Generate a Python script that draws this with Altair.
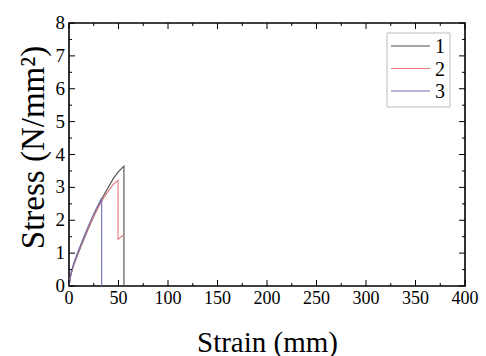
import altair as alt
import pandas as pd

# ---- data ----
strain1 = [0, 2, 5, 10, 15, 20, 25, 30, 35, 40, 45, 50, 55.5, 55.5]
stress1 = [0, 0.35, 0.65, 1.05, 1.42, 1.78, 2.12, 2.45, 2.75, 3.02, 3.28, 3.48, 3.65, 0]

strain2 = [0, 2, 5, 10, 15, 20, 25, 30, 35, 40, 45, 49.5, 49.5, 55]
stress2 = [0, 0.38, 0.68, 1.08, 1.45, 1.8, 2.12, 2.42, 2.68, 2.9, 3.1, 3.22, 1.42, 1.55]

strain3 = [0, 2, 5, 10, 15, 20, 25, 30, 33, 33]
stress3 = [0, 0.4, 0.72, 1.12, 1.5, 1.86, 2.2, 2.5, 2.68, 0]

series_names = ["1", "2", "3"]
series_colors = ["#4d4d4d", "#e07a7a", "#6b6fb0"]

x_major = [0, 50, 100, 150, 200, 250, 300, 350, 400]
x_minor = [25, 75, 125, 175, 225, 275, 325, 375]
y_major = [0, 1, 2, 3, 4, 5, 6, 7, 8]
y_minor = [0.5, 1.5, 2.5, 3.5, 4.5, 5.5, 6.5, 7.5]

W, H = 396, 263
FONT = "Liberation Serif"

rows = []
for name, xs, ys in zip(series_names, [strain1, strain2, strain3], [stress1, stress2, stress3]):
    for i, (a, b) in enumerate(zip(xs, ys)):
        rows.append({"series": name, "strain": a, "stress": b, "order": i})
df = pd.DataFrame(rows)

xscale = alt.Scale(domain=[0, 400], nice=False)
yscale = alt.Scale(domain=[0, 8], nice=False)
cscale = alt.Scale(domain=series_names, range=series_colors)

common = dict(labelFont=FONT, titleFont=FONT, labelColor="black", titleColor="black",
              titleFontWeight="normal", ticks=False, domain=False, grid=False,
              labels=False)

xaxis = alt.Axis(values=x_major, title="Strain (mm)",
                 titleFontSize=29, titleY=56, titleBaseline="middle", **common)
yaxis = alt.Axis(values=y_major, title="Stress (N/mm²)", titleFontSize=33,
                 titleX=-36, titleY=124, titleAngle=270,
                 titleAlign="center", titleBaseline="middle", **common)

lines = alt.Chart(df).mark_line(strokeWidth=1.1).encode(
    x=alt.X("strain:Q", scale=xscale, axis=xaxis),
    y=alt.Y("stress:Q", scale=yscale, axis=yaxis),
    color=alt.Color("series:N", scale=cscale, legend=None),
    order="order:Q",
)

xmaj = pd.DataFrame({"strain": x_major})
xmin = pd.DataFrame({"strain": x_minor})
ymaj = pd.DataFrame({"stress": y_major})
ymin = pd.DataFrame({"stress": y_minor})

def xticks(d, length):
    b = alt.Chart(d).mark_rule(color="black", strokeWidth=1).encode(
        x=alt.X("strain:Q", scale=xscale, axis=xaxis), y=alt.value(H), y2=alt.value(H - length))
    t = alt.Chart(d).mark_rule(color="black", strokeWidth=1).encode(
        x=alt.X("strain:Q", scale=xscale, axis=xaxis), y=alt.value(0), y2=alt.value(length))
    return b + t

def yticks(d, length):
    l = alt.Chart(d).mark_rule(color="black", strokeWidth=1).encode(
        y=alt.Y("stress:Q", scale=yscale, axis=yaxis), x=alt.value(0), x2=alt.value(length))
    r = alt.Chart(d).mark_rule(color="black", strokeWidth=1).encode(
        y=alt.Y("stress:Q", scale=yscale, axis=yaxis), x=alt.value(W), x2=alt.value(W - length))
    return l + r

# tick labels as serif text marks
xlabels = alt.Chart(xmaj).mark_text(font=FONT, fontSize=18, color="black",
                                    baseline="top", align="center").encode(
    x=alt.X("strain:Q", scale=xscale, axis=xaxis), y=alt.value(H + 4),
    text=alt.Text("strain:Q", format="d"))
ylabels = alt.Chart(ymaj).mark_text(font=FONT, fontSize=19, color="black",
                                    baseline="middle", align="right").encode(
    y=alt.Y("stress:Q", scale=yscale, axis=yaxis), x=alt.value(-4),
    text=alt.Text("stress:Q", format="d"))

# ---- manual legend (box, short lines, labels) ----
LX0, LY0, LX1, LY1 = 318, 10, 381, 84
legend_df = pd.DataFrame({"series": series_names})
legend_layers = [
    alt.Chart(legend_df.iloc[:1]).mark_rect(fill="white", stroke="#aaaaaa", strokeWidth=0.8).encode(
        x=alt.value(LX0), x2=alt.value(LX1), y=alt.value(LY0), y2=alt.value(LY1))
]
for i, name in enumerate(series_names):
    yy = 23 + i * 22.5
    sub = legend_df[legend_df.series == name]
    legend_layers.append(
        alt.Chart(sub).mark_rule(strokeWidth=1.2).encode(
            x=alt.value(322), x2=alt.value(361), y=alt.value(yy),
            color=alt.Color("series:N", scale=cscale, legend=None)))
    legend_layers.append(
        alt.Chart(sub).mark_text(font=FONT, fontSize=20, align="left", baseline="middle",
                                 color="black").encode(
            x=alt.value(366), y=alt.value(yy + 1), text="series:N"))

chart = alt.layer(
    lines, xticks(xmaj, 6), xticks(xmin, 3), yticks(ymaj, 6), yticks(ymin, 3),
    xlabels, ylabels, *legend_layers
).properties(
    width=W, height=H,
    background="white",
    autosize=alt.AutoSizeParams(type="none"),
    padding={"left": 69, "top": 23, "right": 21, "bottom": 70},
).configure(
    font=FONT
).configure_view(
    stroke="black", strokeWidth=1.6
).configure_axis(
    labelFont=FONT, titleFont=FONT, labelColor="black", titleColor="black",
    titleFontWeight="normal"
)

chart.save("out.html", embed_options={"renderer": "svg", "actions": False})
